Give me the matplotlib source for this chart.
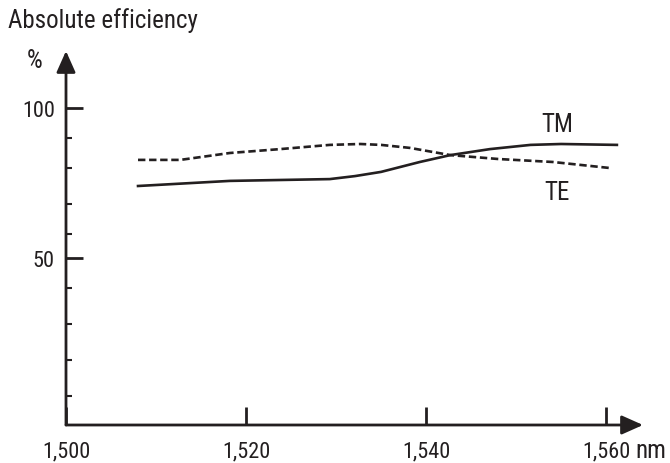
import matplotlib
matplotlib.use('Agg')
import matplotlib.pyplot as plt

plt.rcParams['font.family'] = ['Roboto Condensed', 'DejaVu Sans']

# values
te_x = [1508, 1512.7, 1518.2, 1523.8, 1529.3, 1532.7, 1535, 1538.2,
        1542.7, 1548, 1554.1, 1560.4]
te_y = [82.7, 82.7, 85.0, 86.3, 87.7, 88.0, 87.7, 86.7,
        84.3, 83.0, 82.0, 80.0]
tm_x = [1508, 1518.2, 1529.3, 1532.1, 1535, 1539.3, 1542.7, 1547.1,
        1551.6, 1555, 1561.2]
tm_y = [74.0, 75.7, 76.3, 77.3, 78.7, 82.0, 84.3, 86.3,
        87.7, 88.0, 87.7]

x_ticks = [1500, 1520, 1540, 1560]
x_labels = ['1,500', '1,520', '1,540', '1,560']
y_ticks = [50, 100]
y_minor = [90, 80, 68, 58, 40, 28, 16, 4]

FS = 16      # digits
FS_TXT = 18  # words
LW = 2.0
INK = '#231f20'

fig = plt.figure(figsize=(6.7, 4.64), dpi=100)
W, H = 670, 464
ax = fig.add_axes([66 / W, 1 - 426 / H, (643 - 66) / W, (426 - 52) / H])
ax.set_xlim(1500, 1564.1)
ax.set_ylim(-5.67, 119)
for s in ax.spines.values():
    s.set_visible(False)
ax.patch.set_visible(False)

# axes with arrow heads
arrow = dict(arrowstyle='-|>,head_length=0.65,head_width=0.29',
             mutation_scale=20, lw=LW, color=INK,
             shrinkA=0, shrinkB=0)
ax.annotate('', xy=(1, 0), xytext=(0, 0), xycoords='axes fraction',
            textcoords='axes fraction', arrowprops=arrow)
ax.annotate('', xy=(0, 1), xytext=(0, 0), xycoords='axes fraction',
            textcoords='axes fraction', arrowprops=arrow)

ax.plot(te_x, te_y, color=INK, lw=1.9, linestyle=(0, (2.8, 1.4)),
        dash_capstyle='butt')
ax.plot(tm_x, tm_y, color=INK, lw=1.9)

ax.set_xticks(x_ticks)
ax.set_xticklabels(x_labels)
ax.set_yticks(y_ticks)
ax.set_yticks(y_minor, minor=True)
ax.tick_params(axis='x', direction='in', length=13, width=LW,
               color=INK, labelsize=FS, pad=11)
ax.tick_params(axis='y', which='major', direction='in', length=12.2,
               width=LW, color=INK, labelsize=FS, pad=8)
ax.tick_params(axis='y', which='minor', direction='in', length=4.3,
               width=1.5, color=INK)
for lab in ax.get_xticklabels() + ax.get_yticklabels():
    lab.set_color(INK)

ax.text(1554.6, 94.7, 'TM', fontsize=FS_TXT, ha='center', va='center',
        color=INK)
ax.text(1554.6, 72, 'TE', fontsize=FS_TXT, ha='center', va='center',
        color=INK)

fig.text(8 / W, 1 - 28 / H, 'Absolute efficiency', fontsize=FS_TXT,
         va='baseline', ha='left', color=INK)
fig.text(35 / W, 1 - 61 / H, '%', fontsize=FS_TXT, va='center',
         ha='center', color=INK)
fig.text(635 / W, 1 - 451 / H, 'nm', fontsize=FS_TXT, va='center',
         ha='left', color=INK)

fig.savefig('out.png', dpi=100)
